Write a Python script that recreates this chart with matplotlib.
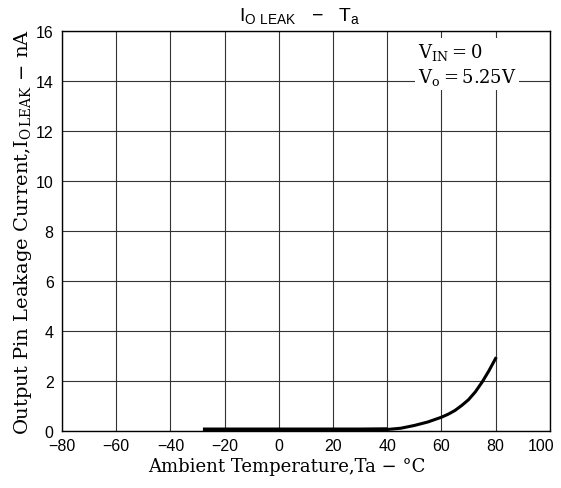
import matplotlib
matplotlib.use("Agg")
import matplotlib.pyplot as plt
import matplotlib.transforms as mtransforms
import numpy as np

plt.rcParams['mathtext.fontset'] = 'custom'
plt.rcParams['mathtext.rm'] = 'DejaVu Serif'
plt.rcParams['mathtext.it'] = 'DejaVu Serif:italic'
plt.rcParams['mathtext.sf'] = 'Liberation Sans'

# Curve (Ta in degC, leakage in nA)
temp = [-28, -10, 10, 30, 40, 45, 50, 55, 60, 62.5, 65, 67.5, 70, 72.5, 75, 77.5, 80]
leak = [0.05, 0.05, 0.05, 0.05, 0.06, 0.11, 0.22, 0.36, 0.55, 0.67, 0.82, 1.02,
        1.25, 1.56, 1.95, 2.4, 2.9]

x_ticks = [-80, -60, -40, -20, 0, 20, 40, 60, 80, 100]
x_labels = ['\u221280', '\u221260', '\u221240', '\u221220', '0', '20', '40', '60', '80', '100']
y_ticks = [0, 2, 4, 6, 8, 10, 12, 14, 16]

fig = plt.figure(figsize=(5.61, 4.89), dpi=100)
ax = fig.add_axes([0.1105, 0.1166, 0.8695, 0.818])

# thick flat part plus the rising tail
ax.plot(temp[:5], leak[:5], color='black', linewidth=3.2, solid_capstyle='butt')
ax.plot(temp[4:], leak[4:], color='black', linewidth=2.2)

ax.set_xlim(-80, 100)
ax.set_ylim(0, 16)
ax.set_xticks(x_ticks)
ax.set_xticklabels(x_labels, fontfamily='Liberation Sans', fontsize=11.5)
ax.set_yticks(y_ticks)
ax.set_yticklabels([str(v) for v in y_ticks], fontfamily='Liberation Sans', fontsize=11.5)
ax.tick_params(axis='x', length=0, pad=5)
ax.tick_params(axis='y', length=0, pad=6)
ax.grid(True, color='#333333', linewidth=0.8)
for s in ax.spines.values():
    s.set_linewidth(1.0)

# last x label sits a little left of its tick, as in the original
shift = mtransforms.ScaledTranslation(-9 / 100, 0, fig.dpi_scale_trans)
last = ax.get_xticklabels()[-1]
last.set_transform(last.get_transform() + shift)

ax.set_xlabel('Ambient Temperature,Ta \u2212 \u00b0C', fontfamily='DejaVu Serif',
              fontsize=13, labelpad=1)
ax.xaxis.set_label_coords(0.46, -0.065)
ax.set_ylabel('Output Pin Leakage Current,I$_{\\mathrm{O\\,LEAK}}$ \u2212 nA',
              fontfamily='DejaVu Serif', fontsize=14, labelpad=1)

fig.text(0.535, 0.967, '$\\mathsf{I_{O\\ LEAK}}$   \u2212   T$\\mathsf{_a}$',
         fontfamily='Liberation Sans', fontsize=14, ha='center', va='center')

ax.text(0.73, 0.975, 'V$_{\\mathrm{IN}}$\u2009=\u20090' + '\n' + 'V$_{\\mathrm{o}}$\u2009=\u20095.25V',
        transform=ax.transAxes, fontfamily='DejaVu Serif', fontsize=13,
        ha='left', va='top', linespacing=1.25,
        bbox=dict(facecolor='white', edgecolor='none', pad=2))

fig.savefig('out.png', dpi=100)
